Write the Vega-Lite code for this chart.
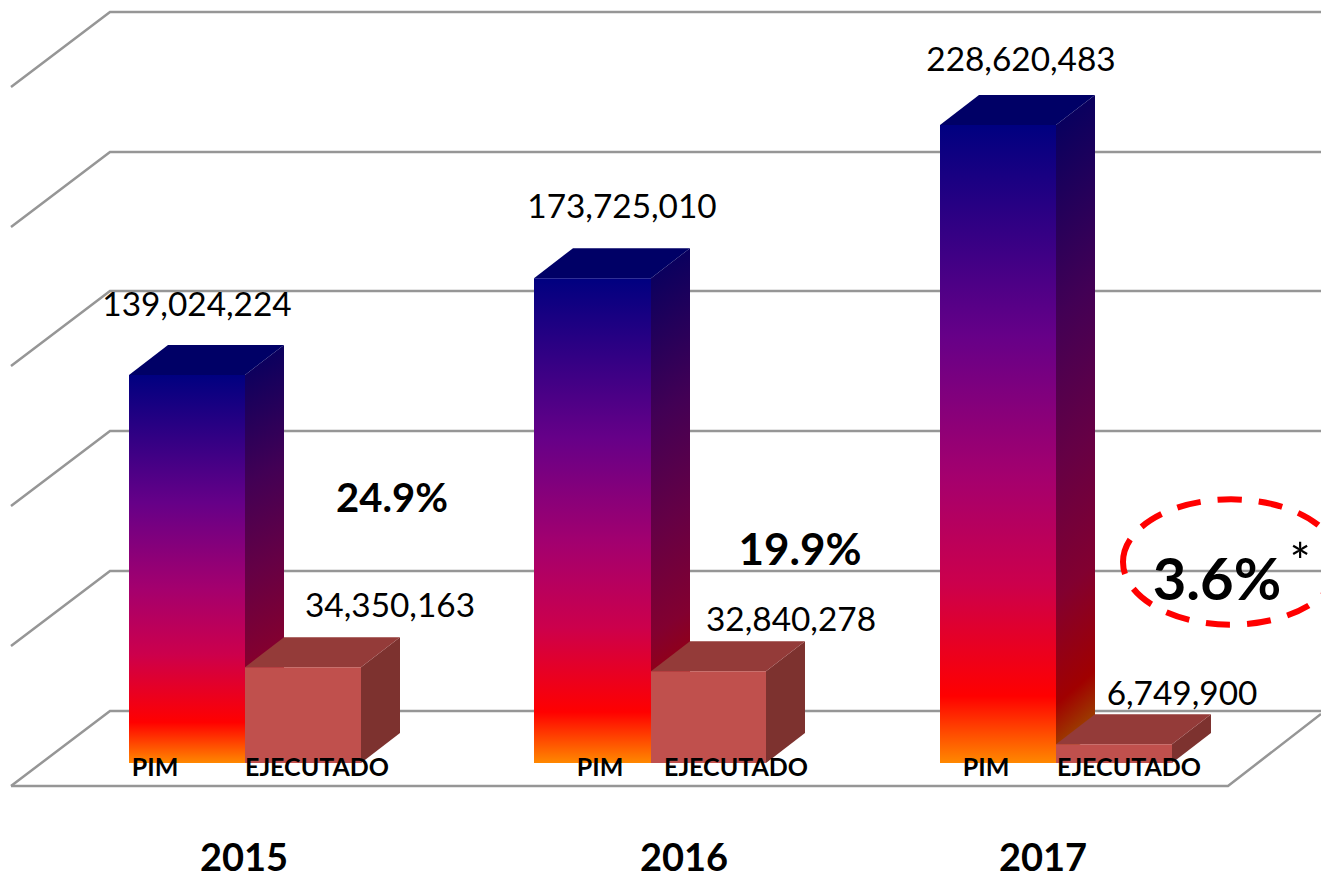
{"$schema":"https://vega.github.io/schema/vega-lite/v6.json","width":1321,"height":874,"autosize":"none","padding":0,"background":"white","config":{"view":{"stroke":null}},
"datasets":{
"grid":[
{"line":"f","x":11,"value":-8241636},{"line":"f","x":1228,"value":-8241636},{"line":"f","x":1321,"value":17558268},
{"line":"d0","x":11,"value":-8241636},{"line":"d0","x":110,"value":18633264},{"line":"d0","x":1321,"value":18633264},
{"line":"d1","x":11,"value":41924844},{"line":"d1","x":110,"value":68799744},{"line":"d1","x":1321,"value":68799744},
{"line":"d2","x":11,"value":92091324},{"line":"d2","x":110,"value":118966224},{"line":"d2","x":1321,"value":118966224},
{"line":"d3","x":11,"value":142257804},{"line":"d3","x":110,"value":169132704},{"line":"d3","x":1321,"value":169132704},
{"line":"d4","x":11,"value":192065952},{"line":"d4","x":110,"value":218940852},{"line":"d4","x":1321,"value":218940852},
{"line":"d5","x":11,"value":242232432},{"line":"d5","x":110,"value":269107332},{"line":"d5","x":1321,"value":269107332}],
"bars":[
{"year":2015,"serie":"PIM","x":129,"x2":245,"value":139024224,"base":0},
{"year":2016,"serie":"PIM","x":534,"x2":651,"value":173725010,"base":0},
{"year":2017,"serie":"PIM","x":940,"x2":1056,"value":228620483,"base":0},
{"year":2015,"serie":"EJECUTADO","x":245,"x2":361,"value":34350163,"base":0},
{"year":2016,"serie":"EJECUTADO","x":651,"x2":766,"value":32840278,"base":0},
{"year":2017,"serie":"EJECUTADO","x":1056,"x2":1172,"value":6749900,"base":0}],
"sides":[
{"bar":"2015 PIM","serie":"PIM","x":245,"value":139024224,"base":0},{"bar":"2015 PIM","serie":"PIM","x":284,"value":149774224,"base":10750000},
{"bar":"2016 PIM","serie":"PIM","x":651,"value":173725010,"base":0},{"bar":"2016 PIM","serie":"PIM","x":690,"value":184475010,"base":10750000},
{"bar":"2017 PIM","serie":"PIM","x":1056,"value":228620483,"base":0},{"bar":"2017 PIM","serie":"PIM","x":1095,"value":239370483,"base":10750000},
{"bar":"2015 EJ","serie":"EJECUTADO","x":361,"value":34350163,"base":0},{"bar":"2015 EJ","serie":"EJECUTADO","x":400,"value":45100163,"base":10750000},
{"bar":"2016 EJ","serie":"EJECUTADO","x":766,"value":32840278,"base":0},{"bar":"2016 EJ","serie":"EJECUTADO","x":805,"value":43590278,"base":10750000},
{"bar":"2017 EJ","serie":"EJECUTADO","x":1172,"value":6749900,"base":0},{"bar":"2017 EJ","serie":"EJECUTADO","x":1211,"value":17499900,"base":10750000}],
"tops":[
{"bar":"2015 PIM","serie":"PIM","x":129,"value":139024224,"base":139024224},{"bar":"2015 PIM","serie":"PIM","x":168,"value":149774224,"base":139024224},{"bar":"2015 PIM","serie":"PIM","x":245,"value":149774224,"base":139024224},{"bar":"2015 PIM","serie":"PIM","x":284,"value":149774224,"base":149774224},
{"bar":"2016 PIM","serie":"PIM","x":534,"value":173725010,"base":173725010},{"bar":"2016 PIM","serie":"PIM","x":573,"value":184475010,"base":173725010},{"bar":"2016 PIM","serie":"PIM","x":651,"value":184475010,"base":173725010},{"bar":"2016 PIM","serie":"PIM","x":690,"value":184475010,"base":184475010},
{"bar":"2017 PIM","serie":"PIM","x":940,"value":228620483,"base":228620483},{"bar":"2017 PIM","serie":"PIM","x":979,"value":239370483,"base":228620483},{"bar":"2017 PIM","serie":"PIM","x":1056,"value":239370483,"base":228620483},{"bar":"2017 PIM","serie":"PIM","x":1095,"value":239370483,"base":239370483},
{"bar":"2015 EJ","serie":"EJECUTADO","x":245,"value":34350163,"base":34350163},{"bar":"2015 EJ","serie":"EJECUTADO","x":284,"value":45100163,"base":34350163},{"bar":"2015 EJ","serie":"EJECUTADO","x":361,"value":45100163,"base":34350163},{"bar":"2015 EJ","serie":"EJECUTADO","x":400,"value":45100163,"base":45100163},
{"bar":"2016 EJ","serie":"EJECUTADO","x":651,"value":32840278,"base":32840278},{"bar":"2016 EJ","serie":"EJECUTADO","x":690,"value":43590278,"base":32840278},{"bar":"2016 EJ","serie":"EJECUTADO","x":766,"value":43590278,"base":32840278},{"bar":"2016 EJ","serie":"EJECUTADO","x":805,"value":43590278,"base":43590278},
{"bar":"2017 EJ","serie":"EJECUTADO","x":1056,"value":6749900,"base":6749900},{"bar":"2017 EJ","serie":"EJECUTADO","x":1095,"value":17499900,"base":6749900},{"bar":"2017 EJ","serie":"EJECUTADO","x":1172,"value":17499900,"base":6749900},{"bar":"2017 EJ","serie":"EJECUTADO","x":1211,"value":17499900,"base":17499900}],
"amounts":[
{"amount":139024224,"x":197,"value":160174404},{"amount":173725010,"x":622,"value":195290940},{"amount":228620483,"x":1021,"value":247965744},
{"amount":34350163,"x":390,"value":52316472},{"amount":32840278,"x":791,"value":47299824},{"amount":6749900,"x":1182,"value":20783256}],
"pcts":[
{"pct":"24.9%","x":392,"value":89941332,"size":40},{"pct":"19.9%","x":800,"value":70949736,"size":44},{"pct":"3.6%","x":1217,"value":58408116,"size":58}],
"series":[
{"t":"PIM","x":155,"value":-4658316},{"t":"EJECUTADO","x":317,"value":-4658316},
{"t":"PIM","x":600,"value":-4658316},{"t":"EJECUTADO","x":736,"value":-4658316},
{"t":"PIM","x":986,"value":-4658316},{"t":"EJECUTADO","x":1129,"value":-4658316}],
"years":[{"t":"2015","x":244,"value":-38699856},{"t":"2016","x":684,"value":-38699856},{"t":"2017","x":1043,"value":-38699856}],
"marker":[{"t":"3.6%","x":1231,"value":72024732}],
"star":[{"t":"*","x":1300,"value":65574756}]
},
"encoding":{"x":{"field":"x","type":"quantitative","axis":null,"scale":{"domain":[0,1321],"nice":false,"zero":false}},"y":{"field":"value","type":"quantitative","axis":null,"scale":{"domain":[-39774852,273407316],"nice":false,"zero":false}}},
"layer":[
{"data":{"name":"grid"},"mark":{"type":"line","color":"#969696","strokeWidth":2.5,"clip":true},"encoding":{"detail":{"field":"line"},"order":{"field":"x"}}},
{"data":{"name":"sides"},"transform":[{"filter":"datum.serie==='PIM'"}],"mark":{"type":"area","color":{"gradient":"linear","x1":0,"y1":0,"x2":0.05,"y2":1,"stops":[{"offset":0,"color":"#000060"},{"offset":0.33,"color":"#420055"},{"offset":0.55,"color":"#650045"},{"offset":0.75,"color":"#820030"},{"offset":0.91,"color":"#a00000"},{"offset":1,"color":"#9a5000"}]}},"encoding":{"y2":{"field":"base"},"detail":{"field":"bar"}}},
{"data":{"name":"tops"},"transform":[{"filter":"datum.serie==='PIM'"}],"mark":{"type":"area","color":"#000066"},"encoding":{"y2":{"field":"base"},"detail":{"field":"bar"}}},
{"data":{"name":"bars"},"transform":[{"filter":"datum.serie==='PIM'"}],"mark":{"type":"rect","color":{"gradient":"linear","x1":0,"y1":0,"x2":0,"y2":1,"stops":[{"offset":0,"color":"#000080"},{"offset":0.33,"color":"#660088"},{"offset":0.55,"color":"#a4006e"},{"offset":0.72,"color":"#cc004c"},{"offset":0.895,"color":"#ff0000"},{"offset":1,"color":"#ff8800"}]}},"encoding":{"x2":{"field":"x2"},"y2":{"field":"base"}}},
{"data":{"name":"sides"},"transform":[{"filter":"datum.serie==='EJECUTADO'"}],"mark":{"type":"area","color":"#7d322f"},"encoding":{"y2":{"field":"base"},"detail":{"field":"bar"}}},
{"data":{"name":"tops"},"transform":[{"filter":"datum.serie==='EJECUTADO'"}],"mark":{"type":"area","color":"#943b39"},"encoding":{"y2":{"field":"base"},"detail":{"field":"bar"}}},
{"data":{"name":"bars"},"transform":[{"filter":"datum.serie==='EJECUTADO'"}],"mark":{"type":"rect","color":"#c0504d"},"encoding":{"x2":{"field":"x2"},"y2":{"field":"base"}}},
{"data":{"name":"marker"},"mark":{"type":"point","shape":"M-1,0A1,0.58,0,1,1,1,0A1,0.58,0,1,1,-1,0Z","size":46656,"filled":false,"stroke":"#ff0000","strokeWidth":6,"strokeDash":[24,17],"opacity":1}},
{"data":{"name":"amounts"},"mark":{"type":"text","font":"Lato","fontSize":33.4,"color":"#000000","align":"center","baseline":"alphabetic"},"encoding":{"text":{"field":"amount","type":"quantitative","format":","}}},
{"data":{"name":"pcts"},"mark":{"type":"text","font":"Lato","fontWeight":"bold","color":"#000000","align":"center","baseline":"alphabetic"},"encoding":{"text":{"field":"pct"},"size":{"field":"size","type":"quantitative","scale":null,"legend":null}}},
{"data":{"name":"series"},"mark":{"type":"text","font":"Lato","fontWeight":"bold","fontSize":25,"color":"#000000","align":"center","baseline":"alphabetic"},"encoding":{"text":{"field":"t"}}},
{"data":{"name":"years"},"mark":{"type":"text","font":"Lato","fontWeight":"bold","fontSize":38,"color":"#000000","align":"center","baseline":"alphabetic"},"encoding":{"text":{"field":"t"}}},
{"data":{"name":"star"},"mark":{"type":"text","font":"Lato","fontSize":50,"color":"#000000","align":"center","baseline":"alphabetic"},"encoding":{"text":{"field":"t"}}}
]}
